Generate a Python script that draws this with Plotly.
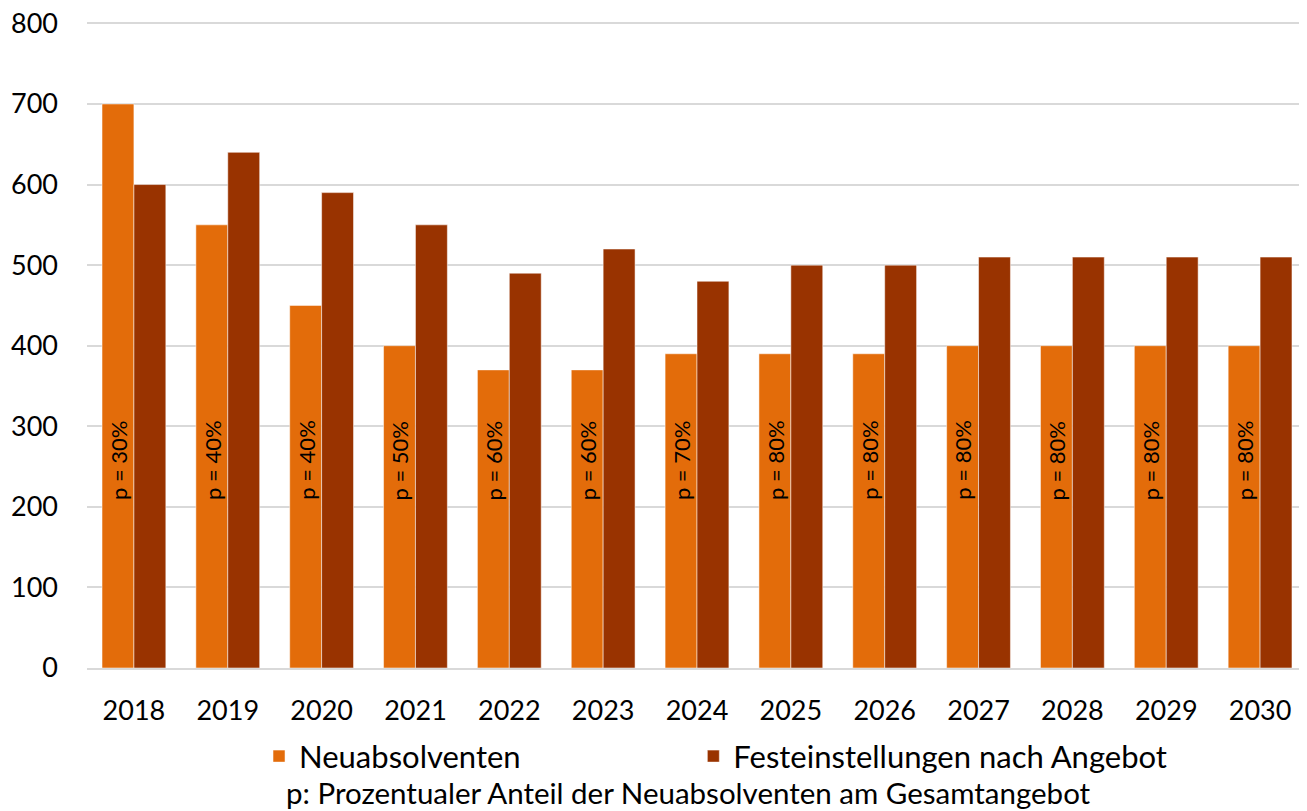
import plotly.graph_objects as go

years = ["2018", "2019", "2020", "2021", "2022", "2023", "2024", "2025", "2026", "2027", "2028", "2029", "2030"]
neuabsolventen = [700, 550, 450, 400, 370, 370, 390, 390, 390, 400, 400, 400, 400]
festeinstellungen = [600, 640, 590, 550, 490, 520, 480, 500, 500, 510, 510, 510, 510]
p_labels = ["30%", "40%", "40%", "50%", "60%", "60%", "70%", "80%", "80%", "80%", "80%", "80%", "80%"]
label_y = 258
y_ticks = [0, 100, 200, 300, 400, 500, 600, 700, 800]

FONT = "Lato"
ORANGE = "#E36C0A"
BROWN = "#993300"

fig = go.Figure()
fig.add_trace(go.Bar(name="Neuabsolventen", x=years, y=neuabsolventen, legend="legend",
                     marker=dict(color=ORANGE, line=dict(color="rgba(255,255,255,0.5)", width=1))))
fig.add_trace(go.Bar(name="Festeinstellungen nach Angebot", x=years, y=festeinstellungen, legend="legend2",
                     marker=dict(color=BROWN, line=dict(color="rgba(255,255,255,0.5)", width=1))))

for i, p in enumerate(p_labels):
    fig.add_annotation(x=i, y=label_y, xref="x", yref="y", text="p = " + p,
                       textangle=-90, showarrow=False, xshift=-16,
                       font=dict(family=FONT, size=22, color="black"))

fig.add_annotation(x=0.493, y=-0.193, xref="paper", yref="paper", yanchor="middle",
                   text="p: Prozentualer Anteil der Neuabsolventen am Gesamtangebot",
                   showarrow=False, font=dict(family=FONT, size=29.5, color="black"))

legend_style = dict(orientation="h", xanchor="left", y=-0.095, yanchor="top",
                    bgcolor="rgba(0,0,0,0)",
                    font=dict(family=FONT, size=31, color="black"))

# page body has an 8px margin, so the figure is drawn 8px smaller and offset
fig.update_layout(
    width=1299, height=803,
    margin=dict(l=79, r=0, t=13, b=143, autoexpand=False),
    paper_bgcolor="white", plot_bgcolor="white",
    barmode="group", bargap=0.32, bargroupgap=0,
    font=dict(family=FONT, size=27, color="black"),
    showlegend=True,
    legend=dict(x=0.141, **legend_style),
    legend2=dict(x=0.497, **legend_style),
    xaxis=dict(type="category", range=[-0.5, 12.5], showgrid=False, showline=True,
               linecolor="#D9D9D9", linewidth=2, automargin=False,
               ticks="", ticklabelstandoff=18, tickfont=dict(family=FONT, size=27)),
    yaxis=dict(range=[0, 803], tickvals=y_ticks, showgrid=True, gridcolor="#D9D9D9", gridwidth=1.5,
               zeroline=False, showline=False, ticks="", ticklabelstandoff=28, automargin=False,
               ticklabeloverflow="allow", tickfont=dict(family=FONT, size=27)),
)

fig.write_html("out.html")
